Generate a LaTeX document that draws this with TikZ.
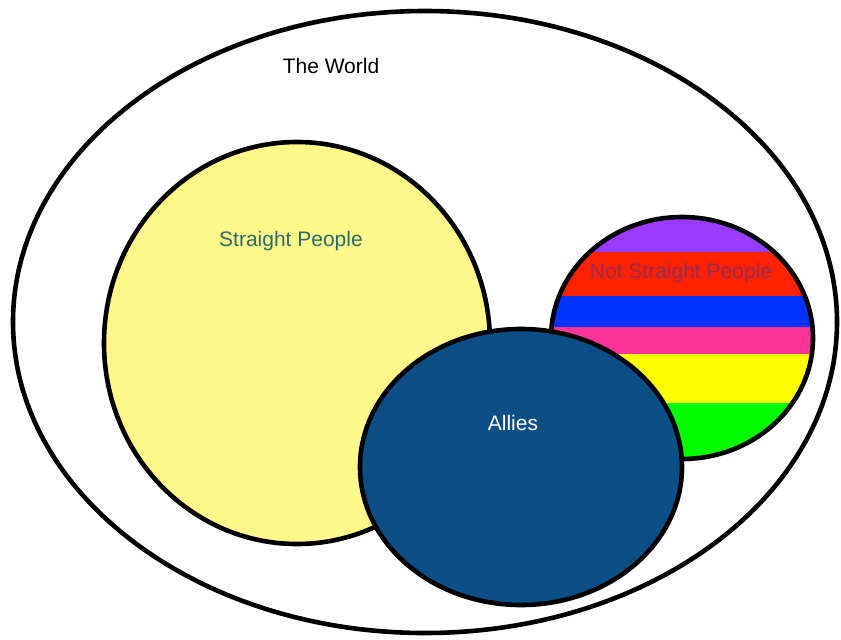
\documentclass[tikz,border=0pt]{standalone}
\usepackage{fontspec}
\setmainfont{Liberation Sans}
\definecolor{strfill}{HTML}{FFF98A}
\definecolor{allyfill}{HTML}{0C4E86}
\definecolor{strtext}{HTML}{2F6B6B}
\definecolor{nsptext}{HTML}{9A2A50}
\definecolor{rbpurple}{HTML}{9B3BFF}
\definecolor{rbred}{HTML}{FF2200}
\definecolor{rbblue}{HTML}{0033FF}
\definecolor{rbpink}{HTML}{FF3399}
\definecolor{rbyellow}{HTML}{FFFF00}
\definecolor{rbgreen}{HTML}{00FF00}
\begin{document}
\begin{tikzpicture}[x=1pt,y=-1pt,
  outline/.style={draw=black,line width=4.6pt},
  lbl/.style={font=\fontsize{21}{24}\selectfont,inner sep=0pt}]
\useasboundingbox (0,0) rectangle (841,640);
% The World
\draw[outline] (425,322) ellipse [x radius=412,y radius=311];
% Straight People
\draw[outline,fill=strfill] (297,343) ellipse [x radius=193,y radius=201];
% Not straight people (rainbow)
\begin{scope}
  \clip (682,338) ellipse [x radius=131,y radius=121];
  \fill[rbpurple] (540,210) rectangle (830,252);
  \fill[rbred] (540,252) rectangle (830,296);
  \fill[rbblue] (540,296) rectangle (830,327);
  \fill[rbpink] (540,327) rectangle (830,354);
  \fill[rbyellow] (540,354) rectangle (830,403);
  \fill[rbgreen] (540,403) rectangle (830,470);
\end{scope}
\draw[outline] (682,338) ellipse [x radius=131,y radius=121];
% Allies
\draw[outline,fill=allyfill] (521,467) ellipse [x radius=161,y radius=138];
% Labels
\node[lbl,text=black] (world) at (331,66) {The World};
\node[lbl,text=strtext] (straight) at (291,241) {Straight People};
\node[lbl,text=nsptext] (notstraight) at (681,273) {Not Straight People};
\node[lbl,text=white] (allies) at (513,423) {Allies};
\end{tikzpicture}
\end{document}
